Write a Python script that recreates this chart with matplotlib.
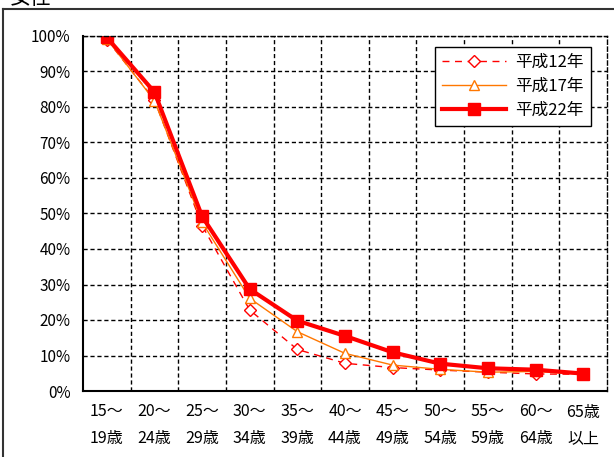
import numpy as np
import matplotlib
matplotlib.use('Agg')
import matplotlib.pyplot as plt
from matplotlib.lines import Line2D

plt.rcParams['font.family'] = ['Noto Sans CJK JP', 'DejaVu Sans']

# age groups and participation rates (%)
age_labels = ['15～\n19歳', '20～\n24歳', '25～\n29歳', '30～\n34歳', '35～\n39歳',
              '40～\n44歳', '45～\n49歳', '50～\n54歳', '55～\n59歳', '60～\n64歳',
              '65歳\n以上']
h12 = [99.0, 82.0, 46.6, 22.8, 11.7, 7.8, 6.6, 5.9, 5.3, 4.8, 4.7]
h17 = [99.2, 81.8, 47.5, 26.1, 16.7, 10.6, 7.3, 6.1, 5.3, 5.5, 4.7]
h22 = [99.6, 84.2, 49.2, 28.7, 19.8, 15.5, 10.9, 7.7, 6.4, 6.0, 4.9]
series_names = ['平成12年', '平成17年', '平成22年']

fig = plt.figure(figsize=(6.14, 4.57), dpi=100)
W, H = 614, 457
ax = fig.add_axes([83 / W, 1 - 391 / H, 524 / W, 355 / H])

x = np.arange(len(age_labels))
ax.plot(x, h12, color='#FF0000', lw=1.0, ls=(0, (5, 4)), marker='D',
        ms=6, mfc='white', mec='#FF0000', mew=1.0, label=series_names[0])
ax.plot(x, h17, color='#FF7700', lw=1.0, marker='^', ms=7.5,
        mfc='white', mec='#FF7700', mew=1.0, label=series_names[1])
ax.plot(x, h22, color='#FF0000', lw=3.0, marker='s', ms=8.5,
        mfc='#FF0000', mec='#FF0000', label=series_names[2])

ax.set_xlim(-0.5, len(age_labels) - 0.5)
ax.set_ylim(0, 100)
ax.set_xticks(x)
ax.set_xticklabels(age_labels, fontsize=11.5, linespacing=1.75)
ax.set_xticks(np.arange(len(age_labels) - 1) + 0.5, minor=True)
ax.set_yticks(np.arange(0, 101, 10))
ax.set_yticklabels([f'{v}%' for v in range(0, 101, 10)], fontsize=11)
ax.tick_params(axis='x', which='major', length=0, pad=9)
ax.tick_params(axis='x', which='minor', length=0)
ax.tick_params(axis='y', length=0, pad=9)

grid_kw = dict(color='black', lw=1.0, ls=(0, (3, 2)))
ax.grid(True, axis='x', which='minor', **grid_kw)
ax.grid(True, axis='y', which='major', **grid_kw)
ax.set_axisbelow(True)

for side in ['left', 'bottom']:
    ax.spines[side].set_linewidth(1.5)
for side in ['top', 'right']:
    ax.spines[side].set_linewidth(1.0)
    ax.spines[side].set_linestyle((0, (3, 2)))

leg = ax.legend(loc='upper right', bbox_to_anchor=(1 - 16 / 524, 1 - 11 / 355),
                borderaxespad=0, fontsize=12, fancybox=False,
                edgecolor='black', framealpha=1, handlelength=3.8,
                labelspacing=0.42, borderpad=0.42, handletextpad=0.6)
leg.get_frame().set_linewidth(1.0)

# outer chart frame and cut-off title
fig.add_artist(Line2D([3 / W, 3 / W], [0, 1 - 9 / H], color='#333333', lw=1.5))
fig.add_artist(Line2D([3 / W, 1], [1 - 9 / H, 1 - 9 / H], color='#333333', lw=1.5))
fig.text(10 / W, 1 - 4 / H, '女性', fontsize=15, va='baseline', ha='left')

fig.savefig('out.png', dpi=100)
